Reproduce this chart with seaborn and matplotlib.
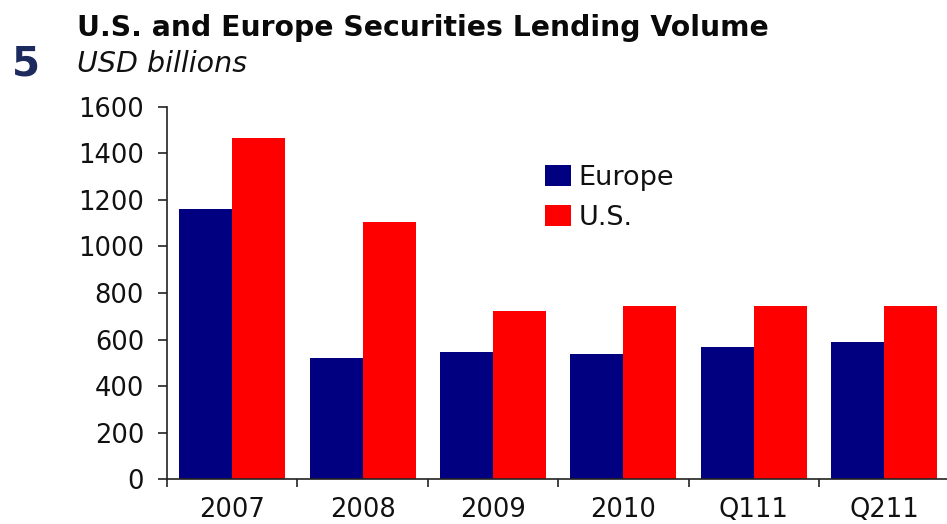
import matplotlib
matplotlib.use("Agg")
import matplotlib.pyplot as plt
import numpy as np
import pandas as pd
import seaborn as sns

# Securities lending volume, USD billions
periods = ["2007", "2008", "2009", "2010", "Q111", "Q211"]
europe = [1160, 520, 545, 537, 566, 588]
us = [1467, 1106, 721, 744, 744, 744]
regions = ["Europe", "U.S."]
y_ticks = [0, 200, 400, 600, 800, 1000, 1200, 1400, 1600]

df = pd.DataFrame({
    "period": periods * 2,
    "region": [regions[0]] * len(periods) + [regions[1]] * len(periods),
    "volume": europe + us,
})

sns.set_style("ticks")
plt.rcParams["font.family"] = ["DejaVu Sans"]

W, H = 947, 524
fig = plt.figure(figsize=(W / 100, H / 100), dpi=100)
ax = fig.add_axes([167 / W, (H - 479.3) / H, 782.4 / W, 372.6 / H])

sns.barplot(
    data=df, x="period", y="volume", hue="region", order=periods,
    hue_order=regions, palette={"Europe": "#000080", "U.S.": "#FF0000"},
    saturation=1, width=0.813, gap=0, linewidth=0, ax=ax,
)

ax.set_xlim(-0.5, len(periods) - 0.5)
ax.set_ylim(0, 1600)
ax.set_yticks(y_ticks)
ax.set_xticks(range(len(periods)))
ax.set_xticklabels(periods)
ax.set_xticks(np.arange(len(periods) + 1) - 0.5, minor=True)
ax.set_xlabel("")
ax.set_ylabel("")

spine_col = "#222222"
for side in ["top", "right"]:
    ax.spines[side].set_visible(False)
for side in ["left", "bottom"]:
    ax.spines[side].set_color(spine_col)
    ax.spines[side].set_linewidth(1.2)

ax.tick_params(axis="y", which="major", left=True, direction="out",
               length=6.5, width=1.2, color=spine_col, pad=10,
               labelsize=18.5, labelcolor="#111111")
ax.tick_params(axis="y", which="minor", left=False)
ax.tick_params(axis="x", which="major", bottom=True, length=0, pad=13,
               labelsize=18.5, labelcolor="#111111")
ax.tick_params(axis="x", which="minor", bottom=True, direction="out",
               length=6, width=1.2, color=spine_col)

handles, labels = ax.get_legend_handles_labels()
ax.legend(handles, labels, loc="upper left", bbox_to_anchor=(0.483, 0.843),
          frameon=False, fontsize=19.5, borderpad=0, handlelength=0.96,
          handleheight=0.82, handletextpad=0.28, labelspacing=0.5,
          borderaxespad=0, labelcolor="#111111")

fig.text(77 / W, 1 - 36 / H, "U.S. and Europe Securities Lending Volume",
         fontsize=20.3, fontweight="bold", color="#0a0a0a", va="baseline")
fig.text(77 / W, 1 - 72 / H, "USD billions", fontsize=20.5, fontstyle="italic",
         color="#111111", va="baseline")
fig.text(12 / W, 1 - 76 / H, "5", fontsize=29, fontweight="bold",
         color="#1c2a5e", va="baseline")

fig.savefig("out.png", dpi=100)
